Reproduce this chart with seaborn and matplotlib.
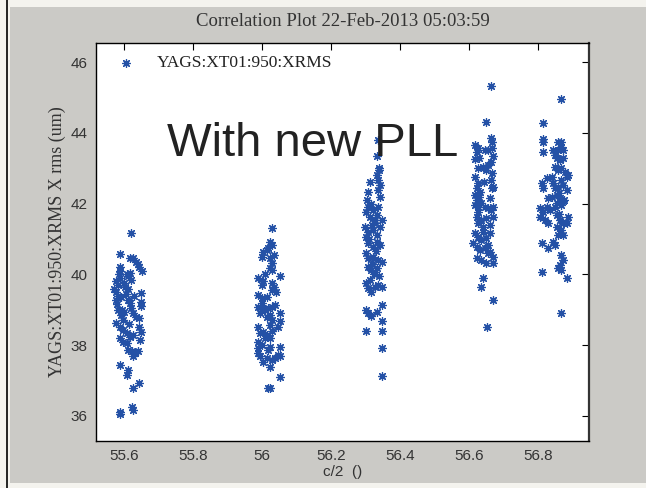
import numpy as np
import pandas as pd
import matplotlib
matplotlib.use("Agg")
import matplotlib.pyplot as plt
import seaborn as sns
from matplotlib.patches import Rectangle
from matplotlib.lines import Line2D

sns.set_style("white")

title = "Correlation Plot 22-Feb-2013 05:03:59"
series_name = "YAGS:XT01:950:XRMS"
xlabel = "c/2  ()"
ylabel = "YAGS:XT01:950:XRMS X rms (um)"
annotation = "With new PLL"
xticks = [55.6, 55.8, 56.0, 56.2, 56.4, 56.6, 56.8]
xticklabels = ["55.6", "55.8", "56", "56.2", "56.4", "56.6", "56.8"]
yticks = [36, 38, 40, 42, 44, 46]

# cluster 1
x1 = [55.620, 55.590, 55.617, 55.626, 55.636, 55.643, 55.652, 55.590, 55.588, 55.617,
      55.608, 55.578, 55.582, 55.588, 55.603, 55.612, 55.649, 55.649, 55.649, 55.578,
      55.582, 55.591, 55.578, 55.617, 55.621, 55.612, 55.626, 55.636, 55.582, 55.591,
      55.596, 55.578, 55.588, 55.596, 55.643, 55.643, 55.649, 55.608, 55.617, 55.626,
      55.588, 55.596, 55.608, 55.612, 55.622, 55.632, 55.640, 55.626, 55.646, 55.590,
      55.612, 55.609, 55.644, 55.626, 55.622, 55.626, 55.590, 55.590, 55.585, 55.600,
      55.620, 55.580, 55.600, 55.630, 55.615, 55.570, 55.640, 55.605, 55.595, 55.612]
y1 = [41.18, 40.57, 40.46, 40.46, 40.35, 40.20, 40.10, 40.20, 40.10, 40.05,
      40.00, 39.80, 39.70, 39.90, 39.65, 39.60, 39.47, 39.23, 39.10, 39.50,
      39.40, 39.37, 39.28, 39.20, 39.05, 39.28, 38.90, 38.80, 38.99, 38.85,
      38.71, 38.63, 38.52, 38.43, 38.77, 38.52, 38.38, 38.34, 38.24, 38.29,
      38.20, 38.10, 38.06, 37.86, 37.82, 37.78, 37.82, 37.68, 38.15, 37.44,
      37.30, 37.16, 36.92, 36.78, 36.26, 36.17, 36.12, 36.06, 40.00, 39.75,
      39.85, 39.15, 38.95, 39.40, 38.60, 39.60, 40.30, 39.45, 39.00, 39.95]

# cluster 2
x2 = [56.030, 56.023, 56.029, 56.019, 56.014, 56.004, 55.999, 56.023, 56.029, 56.023,
      56.029, 55.989, 56.004, 55.999, 56.052, 56.029, 56.034, 56.029, 55.989, 55.999,
      56.014, 55.989, 55.999, 56.009, 56.019, 56.029, 56.038, 56.052, 56.052, 56.047,
      56.023, 56.029, 56.023, 55.989, 55.994, 56.004, 56.014, 56.023, 56.009, 55.989,
      55.989, 55.999, 56.023, 56.019, 55.989, 55.994, 56.052, 56.047, 56.052, 56.004,
      56.014, 56.029, 56.038, 56.023, 56.052, 56.019, 56.023, 56.010, 56.035, 56.000,
      56.040, 56.015, 55.995, 56.030]
y2 = [41.30, 40.92, 40.83, 40.74, 40.69, 40.64, 40.50, 40.45, 40.31, 40.17,
      40.12, 39.89, 39.80, 39.70, 39.94, 39.75, 39.65, 39.56, 39.42, 39.33,
      39.37, 39.09, 39.04, 38.99, 39.04, 39.09, 39.14, 38.90, 38.67, 38.52,
      38.85, 38.71, 38.57, 38.52, 38.34, 38.38, 38.29, 38.19, 38.19, 38.10,
      37.91, 38.01, 37.96, 37.86, 37.77, 37.68, 37.96, 37.72, 37.68, 37.53,
      37.63, 37.58, 37.63, 37.39, 37.09, 36.78, 36.78, 40.00, 40.55, 39.20,
      39.50, 38.80, 38.90, 38.40]

# cluster 3
x3 = [56.337, 56.333, 56.340, 56.333, 56.337, 56.313, 56.342, 56.307, 56.337, 56.342,
      56.307, 56.303, 56.313, 56.322, 56.337, 56.348, 56.299, 56.307, 56.303, 56.322,
      56.333, 56.342, 56.328, 56.333, 56.307, 56.322, 56.333, 56.342, 56.303, 56.307,
      56.322, 56.337, 56.348, 56.307, 56.317, 56.328, 56.333, 56.303, 56.307, 56.317,
      56.328, 56.337, 56.348, 56.348, 56.303, 56.307, 56.317, 56.333, 56.348, 56.301,
      56.348, 56.348, 56.348, 56.315, 56.325, 56.310, 56.330, 56.320, 56.340, 56.312,
      56.326, 56.318, 56.305, 56.338]
y3 = [43.80, 43.34, 43.00, 42.81, 42.67, 42.62, 42.53, 42.34, 42.38, 42.19,
      41.91, 41.77, 41.63, 41.82, 41.91, 41.54, 41.35, 41.21, 41.07, 41.25,
      41.11, 41.35, 41.54, 41.68, 40.88, 40.78, 40.92, 40.83, 40.60, 40.45,
      40.50, 40.40, 40.36, 40.22, 40.12, 40.08, 40.17, 39.75, 39.61, 39.51,
      39.65, 39.70, 39.65, 39.14, 38.99, 38.90, 38.81, 38.95, 38.67, 38.41,
      38.41, 37.93, 37.13, 42.00, 41.45, 41.00, 40.65, 40.30, 39.95, 39.85,
      40.00, 41.40, 42.10, 42.95]

# cluster 4
x4 = [56.664, 56.650, 56.664, 56.667, 56.617, 56.626, 56.622, 56.646, 56.655, 56.667,
      56.670, 56.664, 56.617, 56.626, 56.641, 56.650, 56.655, 56.617, 56.667, 56.664,
      56.626, 56.622, 56.632, 56.617, 56.667, 56.670, 56.622, 56.617, 56.626, 56.636,
      56.646, 56.655, 56.664, 56.670, 56.622, 56.636, 56.650, 56.626, 56.641, 56.660,
      56.670, 56.617, 56.626, 56.636, 56.650, 56.660, 56.612, 56.622, 56.632, 56.646,
      56.655, 56.660, 56.670, 56.622, 56.636, 56.650, 56.670, 56.641, 56.636, 56.670,
      56.652, 56.630, 56.645, 56.625, 56.660, 56.640, 56.655, 56.630]
y4 = [45.33, 44.30, 43.86, 43.75, 43.66, 43.56, 43.47, 43.51, 43.51, 43.56,
      43.34, 43.18, 43.25, 43.00, 43.04, 42.95, 43.09, 42.76, 42.86, 42.67,
      42.57, 42.43, 42.34, 42.24, 42.43, 42.48, 42.10, 41.96, 41.91, 42.01,
      41.91, 41.87, 41.82, 41.91, 41.63, 41.54, 41.58, 41.44, 41.35, 41.40,
      41.63, 41.16, 41.07, 40.97, 41.02, 41.16, 40.88, 40.78, 40.69, 40.74,
      40.83, 40.64, 40.50, 40.45, 40.41, 40.31, 40.31, 39.91, 39.65, 39.28,
      38.52, 42.20, 42.60, 41.75, 42.15, 41.20, 40.60, 43.30]

# cluster 5
x5 = [56.868, 56.814, 56.814, 56.816, 56.814, 56.858, 56.868, 56.868, 56.858, 56.872,
      56.843, 56.849, 56.855, 56.864, 56.872, 56.849, 56.858, 56.868, 56.878, 56.884,
      56.887, 56.826, 56.841, 56.812, 56.816, 56.843, 56.849, 56.858, 56.868, 56.872,
      56.884, 56.855, 56.864, 56.841, 56.829, 56.855, 56.868, 56.872, 56.806, 56.816,
      56.826, 56.835, 56.806, 56.820, 56.829, 56.855, 56.864, 56.872, 56.884, 56.887,
      56.855, 56.868, 56.858, 56.872, 56.843, 56.849, 56.829, 56.812, 56.868, 56.872,
      56.864, 56.858, 56.868, 56.812, 56.884, 56.868, 56.860, 56.850, 56.875, 56.862]
y5 = [44.97, 44.29, 43.84, 43.75, 43.47, 43.75, 43.75, 43.61, 43.51, 43.51,
      43.51, 43.37, 43.28, 43.23, 43.28, 43.04, 42.95, 43.00, 42.90, 42.76,
      42.81, 42.71, 42.76, 42.57, 42.43, 42.57, 42.43, 42.48, 42.67, 42.53,
      42.38, 42.24, 42.15, 42.19, 42.15, 42.01, 41.96, 42.06, 41.87, 41.77,
      41.91, 41.82, 41.63, 41.54, 41.44, 41.68, 41.54, 41.44, 41.44, 41.63,
      41.35, 41.25, 41.11, 41.11, 40.92, 40.83, 40.74, 40.88, 40.55, 40.41,
      40.27, 40.17, 40.12, 40.08, 39.91, 38.90, 42.30, 41.90, 42.10, 41.70]

xs = x1 + x2 + x3 + x4 + x5
ys = y1 + y2 + y3 + y4 + y5
df = pd.DataFrame({"x": xs, "y": ys})

fig = plt.figure(figsize=(6.46, 4.88), dpi=100)
fig.patch.set_facecolor("#f4f3ee")
# window-like gray panel behind everything
fig.patches.append(Rectangle((10/646, 1-483/488), 636/646, 476/488, transform=fig.transFigure,
                             facecolor="#cbcac6", edgecolor="none", zorder=-10))
fig.lines.append(Line2D([7/646, 7/646], [0, 1], transform=fig.transFigure, color="black",
                        lw=1.2, zorder=-9))

ax = fig.add_axes([96/646, 1-441/488, (589-96)/646, (441-43)/488])
ax.set_facecolor("white")

blue = "#2451a6"
sns.scatterplot(data=df, x="x", y="y", ax=ax, marker=(8, 2, 0), s=32, color=blue,
                linewidth=0.9, label=series_name, legend=True, zorder=3)

ax.set_xlim(55.519, 56.948)
ax.set_ylim(35.29, 46.54)
ax.set_xticks(xticks)
ax.set_xticklabels(xticklabels)
ax.set_yticks(yticks)
ax.tick_params(direction="in", length=5, width=0.8, top=True, right=True,
               labelsize=11, labelcolor="#333333", color="black", pad=6)
for lab in ax.get_xticklabels() + ax.get_yticklabels():
    lab.set_family("Liberation Sans")
for sp in ax.spines.values():
    sp.set_color("black")
    sp.set_linewidth(1.0)
ax.spines["right"].set_linewidth(1.6)
ax.spines["right"].set_color("#333333")

ax.set_xlabel(xlabel, fontsize=11, color="#333333", family="Liberation Sans", labelpad=1)
ax.set_ylabel(ylabel, fontsize=13, color="#333333", family="Liberation Serif", labelpad=3)
fig.text(343/646, 1-22/488, title, ha="center", va="center", fontsize=13.5,
         color="#333333", family="Liberation Serif")

leg = ax.legend(loc="upper left", frameon=False, prop={"family": "Liberation Serif", "size": 12.5},
                handletextpad=0.8, borderaxespad=0.3, markerscale=1.0)
for t in leg.get_texts():
    t.set_color("#222222")

ax.text(0.145, 0.745, annotation, transform=ax.transAxes, fontsize=34, family="Liberation Sans",
        color="#222222", ha="left", va="center", zorder=5)

ax.grid(False)
fig.savefig("out.png", dpi=100, facecolor=fig.get_facecolor())
